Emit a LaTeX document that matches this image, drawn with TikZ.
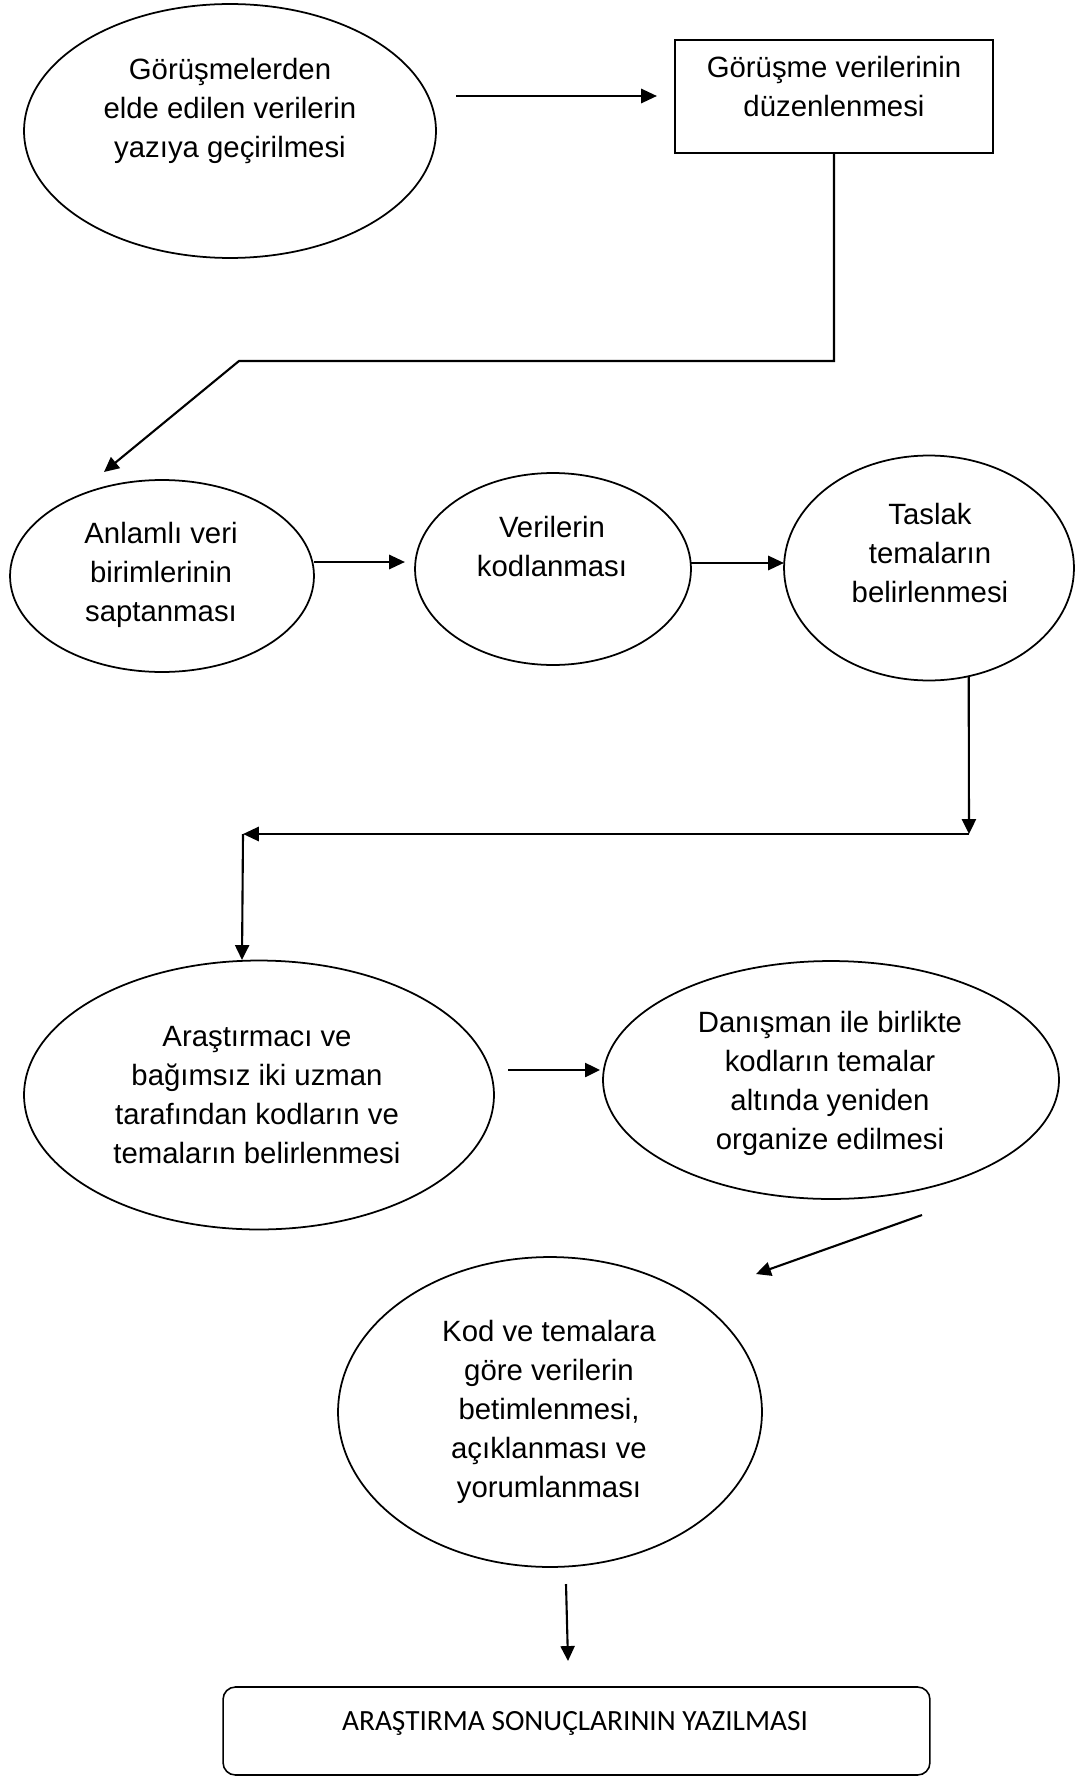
\documentclass[tikz,border=0pt]{standalone}
\usepackage{fontspec}
\setmainfont{Liberation Sans}
\newfontfamily\calibrifont{Carlito}
\usepackage{tikz}
\tikzset{bubble/.style={draw, ellipse, line width=1pt, inner sep=0pt},
 box/.style={draw, rectangle, line width=1pt, inner sep=0pt},
 roundbox/.style={draw, rectangle, rounded corners=7pt, line width=.9pt, inner sep=0pt},
 words/.style={align=center, inner sep=0pt, font=\fontsize{16.7}{22.2}\selectfont},
 fat/.style={line width=1.5pt, -{Triangle[length=9pt,width=8pt]}},
 slim/.style={line width=1.2pt, -{Triangle[length=8.5pt,width=8pt]}},
 }
\usetikzlibrary{shapes.geometric}
\usetikzlibrary{arrows.meta}

\begin{document}
\begin{tikzpicture}[x=0.02cm, y=-0.02cm]
        \useasboundingbox (0,0) rectangle (1076,1777);
        \node [bubble, minimum width=8.24cm, minimum height=5.08cm] (gor) at (230,131) {};
        \node [words] (gortext) at (230,110.5) {Görüşmelerden\\elde edilen verilerin\\yazıya geçirilmesi};
        \node [box, minimum width=6.36cm, minimum height=2.26cm] (duz) at (834,96.5) {};
        \node [words] (duztext) at (834,87) {Görüşme verilerinin\\düzenlenmesi};
        \node [bubble, minimum width=6.08cm, minimum height=3.84cm] (anl) at (162,576) {};
        \node [words] (anltext) at (161,575) {Anlamlı veri\\birimlerinin\\saptanması};
        \node [bubble, minimum width=5.52cm, minimum height=3.84cm] (ver) at (553,569) {};
        \node [words] (vertext) at (552,547) {Verilerin\\kodlanması};
        \node [bubble, minimum width=5.8cm, minimum height=4.5cm] (tas) at (929,568) {};
        \node [words] (tastext) at (930,553.5) {Taslak\\temaların\\belirlenmesi};
        \node [bubble, minimum width=9.4cm, minimum height=5.38cm] (ara) at (259,1095) {};
        \node [words] (aratext) at (257,1095) {Araştırmacı ve\\bağımsız iki uzman\\tarafından kodların ve\\temaların belirlenmesi};
        \node [bubble, minimum width=9.12cm, minimum height=4.76cm] (dan) at (831,1080) {};
        \node [words] (dantext) at (830,1083) {Danışman ile birlikte\\kodların temalar\\altında yeniden\\organize edilmesi};
        \node [bubble, minimum width=8.48cm, minimum height=6.2cm] (kod) at (550,1412) {};
        \node [words] (kodtext) at (549,1412) {Kod ve temalara\\göre verilerin\\betimlenmesi,\\açıklanması ve\\yorumlanması};
        \node [roundbox, minimum width=14.14cm, minimum height=1.76cm] (son) at (576.5,1731) {};
        \node [words, font=\calibrifont\fontsize{16.7}{22.2}\selectfont] (sontext) at (575,1723) {ARAŞTIRMA SONUÇLARININ YAZILMASI};

        \coordinate (a1) at (456,96);
        \coordinate (a2) at (657,96);
        \coordinate (b1) at (239,361);
        \coordinate (b2) at (104,472);
        \coordinate (c1) at (314,562);
        \coordinate (c2) at (405,562);
        \coordinate (d1) at (690,563);
        \coordinate (d2) at (784,563);
        \coordinate (t1) at (969,834);
        \coordinate (t2) at (243,834);
        \coordinate (t3) at (242,960);
        \coordinate (e1) at (508,1070);
        \coordinate (e2) at (600,1070);
        \coordinate (f1) at (922,1215);
        \coordinate (f2) at (756,1274);
        \coordinate (g1) at (566,1584);
        \coordinate (g2) at (568,1661);

        \draw [fat] (a1) -- (a2);
        \draw [slim] (duz.south) |- (b1) -- (b2);
        \draw [fat] (c1) -- (c2);
        \draw [fat] (d1) -- (d2);
        \draw [slim] (tas.-70) -- (t1);
        \draw [fat] (t1) -- (t2);
        \draw [slim] (t2) -- (t3);
        \draw [slim] (e1) -- (e2);
        \draw [slim] (f1) -- (f2);
        \draw [slim] (g1) -- (g2);
    \end{tikzpicture}
\end{document}
